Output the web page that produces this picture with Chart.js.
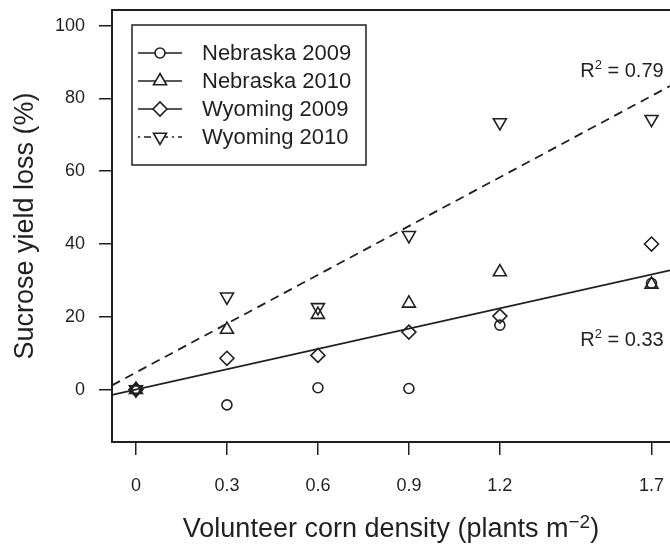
<!DOCTYPE html>
<html>
<head>
<meta charset="utf-8">
<script src="https://cdn.jsdelivr.net/npm/chart.js@4.4.0/dist/chart.umd.min.js"></script>
<style>
    html, body { margin: 0; padding: 0; background: #fff; }
    canvas { display: block; }
</style>
</head>
<body>
<canvas id="yieldLossChart" width="670" height="544"></canvas>
<script>
// Values
const densities = [0, 0.3, 0.6, 0.9, 1.2, 1.7];
const nebraska2009 = [0, -4.2, 0.5, 0.3, 17.7, 29.2];
const nebraska2010 = [0, 16.5, 20.6, 23.7, 32.3, 28.9];
const wyoming2009 = [0, 8.6, 9.4, 15.8, 20.2, 40.0];
const wyoming2010 = [0, 25.5, 22.6, 42.4, 73.4, 74.3];

const seriesLabels = ['Nebraska 2009', 'Nebraska 2010', 'Wyoming 2009', 'Wyoming 2010'];
const xTickValues = [0, 0.3, 0.6, 0.9, 1.2, 1.7];
const yTickValues = [0, 20, 40, 60, 80, 100];

// Regression lines (solid and dashed)
const fitIntercepts = [0, 4.7];
const fitSlopes = [18.6, 44.7];
const fitR2 = ['0.33', '0.79'];

document.addEventListener('DOMContentLoaded', () => {
    const FONT = "'Liberation Sans', Arial, Helvetica, sans-serif";
    const INK = '#231f20';
    const X_MIN = -0.079, X_MAX = 1.761;
    const Y_MIN = -14.4, Y_MAX = 104.3;

    const seriesValues = [nebraska2009, nebraska2010, wyoming2009, wyoming2010];
    const markers = [
        { style: 'circle', rotation: 0, radius: 5 },
        { style: 'triangle', rotation: 0, radius: 7.5 },
        { style: 'rectRot', rotation: 0, radius: 7 },
        { style: 'triangle', rotation: 180, radius: 7.5 }
    ];
    const legendDash = [[], [], [], [2, 4, 7, 4]];
    const fitDash = [[], [9, 6]];

    const pointSets = seriesLabels.map((label, i) => ({
        type: 'scatter',
        label: label,
        data: densities.map((x, j) => ({ x: x, y: seriesValues[i][j] })),
        pointStyle: markers[i].style,
        rotation: markers[i].rotation,
        pointRadius: markers[i].radius,
        pointBorderWidth: 1.6,
        borderColor: INK,
        backgroundColor: 'rgba(0,0,0,0)',
        showLine: false
    }));

    const fitSets = fitSlopes.map((slope, i) => ({
        type: 'line',
        label: 'fit ' + fitR2[i],
        data: [X_MIN, X_MAX].map(x => ({ x: x, y: fitIntercepts[i] + slope * x })),
        borderColor: INK,
        borderWidth: 1.8,
        borderDash: fitDash[i],
        pointRadius: 0,
        fill: false
    }));

    // draw text pieces with a raised part (superscripts)
    function drawRich(ctx, parts, x, y, align) {
        let total = 0;
        parts.forEach(p => {
            ctx.font = p.size + 'px ' + FONT;
            p.w = ctx.measureText(p.t).width;
            total += p.w;
        });
        let cx = align === 'center' ? x - total / 2 : align === 'right' ? x - total : x;
        ctx.textAlign = 'left';
        ctx.textBaseline = 'alphabetic';
        parts.forEach(p => {
            ctx.font = p.size + 'px ' + FONT;
            ctx.fillText(p.t, cx, y - (p.rise || 0));
            cx += p.w;
        });
    }

    const figureText = {
        id: 'figureText',
        afterDraw(chart) {
            const ctx = chart.ctx;
            const area = chart.chartArea;
            const xs = chart.scales.x, ys = chart.scales.y;
            ctx.save();
            ctx.fillStyle = INK;
            ctx.strokeStyle = INK;

            // axis titles
            drawRich(ctx, [
                { t: 'Volunteer corn density (plants m', size: 27 },
                { t: '\u22122', size: 19, rise: 9 },
                { t: ')', size: 27 }
            ], (area.left + area.right) / 2, 537, 'center');

            ctx.save();
            ctx.translate(33, (area.top + area.bottom) / 2);
            ctx.rotate(-Math.PI / 2);
            drawRich(ctx, [{ t: 'Sucrose yield loss (%)', size: 27 }], 0, 0, 'center');
            ctx.restore();

            // R squared labels
            const r2Pos = [{ x: 1.74, y: 12.0 }, { x: 1.74, y: 85.8 }];
            fitR2.forEach((r, i) => {
                drawRich(ctx, [
                    { t: 'R', size: 20 },
                    { t: '2', size: 13, rise: 8 },
                    { t: ' = ' + r, size: 20 }
                ], xs.getPixelForValue(r2Pos[i].x), ys.getPixelForValue(r2Pos[i].y), 'right');
            });

            // legend
            const box = { left: 132, top: 25, right: 366, bottom: 165 };
            ctx.fillStyle = '#fff';
            ctx.fillRect(box.left, box.top, box.right - box.left, box.bottom - box.top);
            ctx.lineWidth = 1.5;
            ctx.strokeRect(box.left, box.top, box.right - box.left, box.bottom - box.top);
            const rowY = [53, 81, 109, 137];
            seriesLabels.forEach((label, i) => {
                const y = rowY[i];
                ctx.save();
                ctx.lineWidth = 1.5;
                ctx.setLineDash(legendDash[i]);
                ctx.beginPath();
                ctx.moveTo(138, y);
                ctx.lineTo(182, y);
                ctx.stroke();
                ctx.restore();
                ctx.save();
                ctx.fillStyle = '#fff';
                ctx.strokeStyle = INK;
                ctx.lineWidth = 1.6;
                Chart.helpers.drawPoint(ctx, {
                    pointStyle: markers[i].style,
                    rotation: markers[i].rotation,
                    radius: markers[i].radius,
                    borderWidth: 1.6
                }, 160, y);
                ctx.restore();
                ctx.fillStyle = INK;
                ctx.font = '22px ' + FONT;
                ctx.textAlign = 'left';
                ctx.textBaseline = 'middle';
                ctx.fillText(label, 202, y + 1);
            });
            ctx.restore();
        }
    };

    const ctx = document.getElementById('yieldLossChart').getContext('2d');
    new Chart(ctx, {
        type: 'scatter',
        data: { datasets: [...fitSets, ...pointSets] },
        options: {
            responsive: false,
            devicePixelRatio: 1,
            animation: false,
            layout: { autoPadding: false, padding: { top: 10, left: 0, right: 0, bottom: 0 } },
            plugins: { legend: { display: false }, tooltip: { enabled: false } },
            scales: {
                x: {
                    type: 'linear',
                    position: 'bottom',
                    min: X_MIN,
                    max: X_MAX,
                    afterBuildTicks: s => { s.ticks = xTickValues.map(v => ({ value: v })); },
                    afterFit: s => { s.height = 102; s.paddingLeft = 0; s.paddingRight = 0; },
                    grid: { display: true, drawOnChartArea: false, drawTicks: true, tickLength: 13, color: INK, lineWidth: 1.5 },
                    border: { display: true, color: INK, width: 2 },
                    ticks: {
                        color: INK, font: { size: 18, family: FONT }, padding: 20,
                        autoSkip: false, maxRotation: 0, callback: v => String(v)
                    }
                },
                xTop: {
                    type: 'linear',
                    position: 'top',
                    min: X_MIN,
                    max: X_MAX,
                    afterFit: s => { s.height = 0; s.paddingLeft = 0; s.paddingRight = 0; },
                    grid: { display: false },
                    border: { display: true, color: INK, width: 2 },
                    ticks: { display: false }
                },
                y: {
                    type: 'linear',
                    min: Y_MIN,
                    max: Y_MAX,
                    afterBuildTicks: s => { s.ticks = yTickValues.map(v => ({ value: v })); },
                    afterFit: s => { s.width = 112; s.paddingTop = 0; s.paddingBottom = 0; },
                    grid: { display: true, drawOnChartArea: false, drawTicks: true, tickLength: 13, color: INK, lineWidth: 1.5 },
                    border: { display: true, color: INK, width: 2 },
                    ticks: { color: INK, font: { size: 18, family: FONT }, padding: 14, callback: v => String(v) }
                }
            }
        },
        plugins: [figureText]
    });
});
</script>
</body>
</html>
